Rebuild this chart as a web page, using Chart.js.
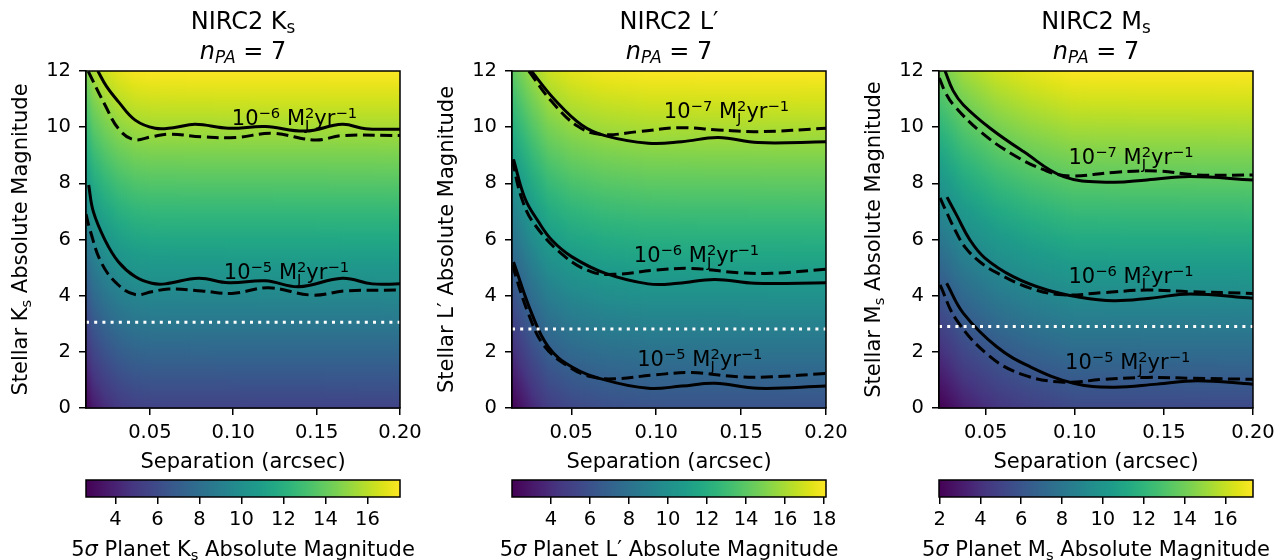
<!DOCTYPE html>
<html><head><meta charset="utf-8">
<script src="https://cdn.jsdelivr.net/npm/chart.js@4.4.1/dist/chart.umd.min.js"></script>
<style>
html,body{margin:0;padding:0;background:#fff;}
#wrap{position:relative;width:1288px;height:560px;overflow:hidden;background:#fff;}
canvas{position:absolute;}
</style></head><body><div id="wrap"></div>
<script>
// ---------------- data ----------------
const SEP_TICKS = [0.05, 0.10, 0.15, 0.20];
const MAG_TICKS = [0, 2, 4, 6, 8, 10, 12];
const SEP_MAX = 0.20;
const MAG_RANGE = [0, 12];

// Ks panel
const KS_XMIN = 0.0117;
const KS_SEP = [0.0117, 0.0161, 0.0231, 0.0311, 0.0411, 0.0512, 0.08, 0.12, 0.16, 0.20];
const KS_CONTRAST = [2.6, 3.65, 4.4, 4.98, 5.38, 5.5, 5.52, 5.53, 5.54, 5.55];
const KS_CBAR_RANGE = [2.6, 17.55];
const KS_CBAR_TICKS = [4, 6, 8, 10, 12, 14, 16];
const KS_STAR_MAG = 3.05;
const KS_E6_SOLID = [[0.0188,12.0],[0.0240,11.45],[0.0311,10.91],[0.0412,10.25],[0.0532,9.96],[0.0640,9.98],[0.0772,10.10],[0.0972,9.96],[0.1193,10.02],[0.1433,9.86],[0.1654,10.10],[0.1794,9.94],[0.2000,9.93]];
const KS_E6_DASHED = [[0.0131,11.98],[0.0231,10.79],[0.0311,9.95],[0.0401,9.56],[0.0512,9.66],[0.0612,9.75],[0.0812,9.66],[0.1012,9.63],[0.1233,9.78],[0.1493,9.54],[0.1654,9.70],[0.2000,9.70]];
const KS_E5_SOLID = [[0.0133,7.94],[0.0161,6.99],[0.0231,5.98],[0.0311,5.21],[0.0411,4.68],[0.0512,4.44],[0.0592,4.42],[0.0792,4.62],[0.0972,4.46],[0.1193,4.53],[0.1393,4.32],[0.1654,4.62],[0.1834,4.42],[0.2000,4.42]];
const KS_E5_DASHED = [[0.0117,6.9],[0.0141,6.34],[0.0211,5.15],[0.0311,4.38],[0.0412,4.04],[0.0512,4.14],[0.0612,4.24],[0.0812,4.17],[0.0992,4.08],[0.1213,4.28],[0.1473,4.02],[0.1674,4.17],[0.2000,4.20]];

// L' panel
const LP_XMIN = 0.0151;
const LP_SEP = [0.0151, 0.0267, 0.0365, 0.0502, 0.0698, 0.0953, 0.13, 0.20];
const LP_CONTRAST = [2.0, 3.7, 4.8, 5.45, 5.85, 6.05, 6.08, 6.1];
const LP_CBAR_RANGE = [2.0, 18.1];
const LP_CBAR_TICKS = [4, 6, 8, 10, 12, 14, 16, 18];
const LP_STAR_MAG = 2.81;
const LP_E7_SOLID = [[0.0265,12.0],[0.0404,10.97],[0.0561,10.08],[0.0698,9.70],[0.0953,9.43],[0.1150,9.48],[0.1365,9.63],[0.1600,9.45],[0.2000,9.48]];
const LP_E7_DASHED = [[0.0250,12.0],[0.0385,10.91],[0.0541,10.02],[0.0679,9.74],[0.0894,9.84],[0.1130,9.98],[0.1365,9.90],[0.1600,9.84],[0.2000,9.96]];
const LP_E6_SOLID = [[0.0160,8.85],[0.0227,7.47],[0.0306,6.64],[0.0385,5.98],[0.0502,5.39],[0.0698,4.80],[0.0953,4.42],[0.1130,4.44],[0.1345,4.58],[0.1580,4.44],[0.2000,4.46]];
const LP_E6_DASHED = [[0.0152,8.85],[0.0208,7.47],[0.0286,6.52],[0.0463,5.39],[0.0620,4.85],[0.0757,4.76],[0.0992,4.91],[0.1208,4.97],[0.1482,4.82],[0.1679,4.80],[0.2000,4.94]];
const LP_E5_SOLID = [[0.0160,5.20],[0.0267,3.37],[0.0365,2.18],[0.0502,1.47],[0.0698,1.00],[0.0953,0.70],[0.1150,0.78],[0.1345,0.88],[0.1600,0.70],[0.2000,0.78]];
const LP_E5_DASHED = [[0.0152,5.10],[0.0247,3.37],[0.0345,2.18],[0.0502,1.41],[0.0620,1.11],[0.0757,1.04],[0.0992,1.18],[0.1208,1.26],[0.1482,1.11],[0.1679,1.11],[0.2000,1.23]];

// Ms panel
const MS_XMIN = 0.0238;
const MS_SEP = [0.0238, 0.0281, 0.0375, 0.0562, 0.0749, 0.0993, 0.14, 0.20];
const MS_CONTRAST = [1.97, 2.3, 3.2, 4.2, 4.8, 5.3, 5.34, 5.36];
const MS_CBAR_RANGE = [1.97, 17.36];
const MS_CBAR_TICKS = [2, 4, 6, 8, 10, 12, 14, 16];
const MS_STAR_MAG = 2.90;
const MS_E7_SOLID = [[0.0272,12.0],[0.0317,11.30],[0.0375,10.79],[0.0525,9.96],[0.0712,9.13],[0.0937,8.24],[0.1199,8.04],[0.1405,8.12],[0.1648,8.24],[0.2000,8.12]];
const MS_E7_DASHED = [[0.0240,11.75],[0.0275,11.22],[0.0320,10.79],[0.0470,9.84],[0.0657,9.01],[0.0843,8.44],[0.0974,8.26],[0.1217,8.39],[0.1461,8.44],[0.1686,8.30],[0.2000,8.30]];
const MS_E6_SOLID = [[0.0283,7.51],[0.0339,6.84],[0.0412,5.98],[0.0496,5.34],[0.0654,4.68],[0.0845,4.20],[0.1013,3.96],[0.1216,3.82],[0.1423,3.91],[0.1648,4.06],[0.2000,3.91]];
const MS_E6_DASHED = [[0.0244,7.48],[0.0283,6.94],[0.0328,6.34],[0.0384,5.73],[0.0468,5.20],[0.0564,4.81],[0.0749,4.27],[0.0935,4.03],[0.1161,4.11],[0.1405,4.20],[0.1648,4.14],[0.2000,4.08]];
const MS_E5_SOLID = [[0.0281,4.44],[0.0375,3.37],[0.0562,2.18],[0.0749,1.47],[0.0993,0.88],[0.1217,0.74],[0.1461,0.85],[0.1686,0.97],[0.2000,0.85]];
const MS_E5_DASHED = [[0.0244,4.38],[0.0337,3.13],[0.0525,1.83],[0.0712,1.18],[0.0937,0.92],[0.1161,1.02],[0.1405,1.09],[0.1648,1.06],[0.2000,1.02]];

// ---------------- helpers ----------------
const FONT = '"DejaVu Sans"';
Chart.defaults.font.family = 'DejaVu Sans';
const VIRIDIS = ['#440154','#471365','#482475','#453781','#414487','#3b528b','#355f8d','#2f6c8e','#2a788e','#25848e','#21918c','#1e9b8a','#22a884','#2fb47c','#44bf70','#5ec962','#7ad151','#9bd93c','#bddf26','#dfe318','#fde725'];
const VRGB = VIRIDIS.map(h => [parseInt(h.slice(1,3),16), parseInt(h.slice(3,5),16), parseInt(h.slice(5,7),16)]);
function viridis(t){
  t = Math.max(0, Math.min(1, t));
  const f = t * 20, i = Math.min(19, Math.floor(f)), u = f - i;
  const a = VRGB[i], b = VRGB[i+1];
  return 'rgb(' + Math.round(a[0]+(b[0]-a[0])*u) + ',' + Math.round(a[1]+(b[1]-a[1])*u) + ',' + Math.round(a[2]+(b[2]-a[2])*u) + ')';
}
function lerpArr(xs, ys, x){
  if (x <= xs[0]) return ys[0];
  for (let i = 1; i < xs.length; i++) if (x <= xs[i]) { const u = (x-xs[i-1])/(xs[i]-xs[i-1]); return ys[i-1] + (ys[i]-ys[i-1])*u; }
  return ys[ys.length-1];
}
function fontStr(sz, it){ return (it ? 'italic ' : '') + sz + 'px ' + FONT; }
function layoutRich(ctx, segs, fs){
  let w = 0; const items = [];
  for (const s of segs){
    if (s.stack){
      const ss = fs*0.7, f = fontStr(ss, false);
      ctx.font = f;
      const w1 = ctx.measureText(s.sub).width, w2 = ctx.measureText(s.sup).width;
      items.push({t:s.sub, x:w, dy:fs*0.24, f});
      items.push({t:s.sup, x:w, dy:-fs*0.33, f});
      w += Math.max(w1, w2);
    } else {
      const sz = (s.sub || s.sup) ? fs*0.7 : fs, f = fontStr(sz, s.it);
      ctx.font = f;
      const tw = ctx.measureText(s.t).width;
      items.push({t:s.t, x:w, dy: s.sub ? fs*0.18 : (s.sup ? -fs*0.33 : 0), f});
      w += tw;
    }
  }
  return {w, items};
}
function drawRich(ctx, segs, x, y, fs, align, rot){
  ctx.save(); ctx.translate(x, y); if (rot) ctx.rotate(rot);
  const L = layoutRich(ctx, segs, fs);
  const x0 = align === 'center' ? -L.w/2 : (align === 'right' ? -L.w : 0);
  ctx.fillStyle = '#000'; ctx.textBaseline = 'alphabetic'; ctx.textAlign = 'left';
  for (const it of L.items){ ctx.font = it.f; ctx.fillText(it.t, x0 + it.x, it.dy); }
  ctx.restore();
}
function rateLabel(exp){
  return [{t:'10'},{t:exp, sup:true},{t:' M'},{stack:true, sub:'J', sup:'2'},{t:'yr'},{t:'−1', sup:true}];
}

// ---------------- panels ----------------
const BAND_K = [{t:'K'},{t:'s', sub:true}];
const BAND_L = [{t:'L′'}];
const BAND_M = [{t:'M'},{t:'s', sub:true}];
const PANELS = [
  {key:'ks', left:0, width:430, areaLeft:86, areaRight:400, yLabelX:27, xmin:KS_XMIN, band:BAND_K,
   sep:KS_SEP, con:KS_CONTRAST, cb:KS_CBAR_RANGE, cbTicks:KS_CBAR_TICKS, star:KS_STAR_MAG,
   lines:[[KS_E6_SOLID,false],[KS_E6_DASHED,true],[KS_E5_SOLID,false],[KS_E5_DASHED,true]],
   labels:[['−6',[0.1367,10.08]],['−5',[0.1319,4.58]]]},
  {key:'lp', left:430, width:430, areaLeft:82, areaRight:396, yLabelX:23, xmin:LP_XMIN, band:BAND_L,
   sep:LP_SEP, con:LP_CONTRAST, cb:LP_CBAR_RANGE, cbTicks:LP_CBAR_TICKS, star:LP_STAR_MAG,
   lines:[[LP_E7_SOLID,false],[LP_E7_DASHED,true],[LP_E6_SOLID,false],[LP_E6_DASHED,true],[LP_E5_SOLID,false],[LP_E5_DASHED,true]],
   labels:[['−7',[0.1414,10.32]],['−6',[0.1237,5.19]],['−5',[0.1257,1.51]]]},
  {key:'ms', left:860, width:428, areaLeft:79, areaRight:393, yLabelX:20, xmin:MS_XMIN, band:BAND_M,
   sep:MS_SEP, con:MS_CONTRAST, cb:MS_CBAR_RANGE, cbTicks:MS_CBAR_TICKS, star:MS_STAR_MAG,
   lines:[[MS_E7_SOLID,false],[MS_E7_DASHED,true],[MS_E6_SOLID,false],[MS_E6_DASHED,true],[MS_E5_SOLID,false],[MS_E5_DASHED,true]],
   labels:[['−7',[0.1316,8.68]],['−6',[0.1316,4.46]],['−5',[0.1297,1.38]]]}
];

const MAIN_H = 480, CB_TOP = 470, CB_H = 90;
const TICK_FONT = {family:'DejaVu Sans', size:19.5};

function makeCanvas(left, top, w, h){
  const c = document.createElement('canvas');
  c.width = w; c.height = h; c.style.left = left + 'px'; c.style.top = top + 'px';
  c.style.width = w + 'px'; c.style.height = h + 'px';
  document.getElementById('wrap').appendChild(c);
  return c;
}

PANELS.forEach(P => {
  const heat = {
    id: 'heat_' + P.key,
    beforeDatasetsDraw(chart){
      const {ctx, chartArea:a, scales:{x, y}} = chart;
      const y0 = y.getPixelForValue(MAG_RANGE[0]), y1 = y.getPixelForValue(MAG_RANGE[1]);
      ctx.save(); ctx.beginPath(); ctx.rect(a.left, a.top, a.right-a.left, a.bottom-a.top); ctx.clip();
      for (let px = Math.floor(a.left); px < a.right; px++){
        const s = x.getValueForPixel(px + 0.5);
        const c = lerpArr(P.sep, P.con, s);
        const g = ctx.createLinearGradient(0, y0, 0, y1);
        for (let k = 0; k <= 24; k++){
          const m = MAG_RANGE[0] + (MAG_RANGE[1]-MAG_RANGE[0])*k/24;
          g.addColorStop(k/24, viridis((m + c - P.cb[0])/(P.cb[1]-P.cb[0])));
        }
        ctx.fillStyle = g; ctx.fillRect(px, a.top, 1.6, a.bottom-a.top);
      }
      ctx.restore();
    }
  };
  const deco = {
    id: 'deco_' + P.key,
    afterDraw(chart){
      const {ctx, chartArea:a, scales:{x, y}} = chart;
      ctx.save();
      ctx.strokeStyle = '#000'; ctx.lineWidth = 1.5;
      ctx.strokeRect(a.left, a.top, a.right-a.left, a.bottom-a.top);
      ctx.restore();
      P.labels.forEach(([exp, pos]) => {
        drawRich(ctx, rateLabel(exp), x.getPixelForValue(pos[0]), y.getPixelForValue(pos[1]), 21, 'center');
      });
      const cx = (a.left + a.right)/2;
      drawRich(ctx, [{t:'NIRC2 '}].concat(P.band), cx, 29, 24, 'center');
      drawRich(ctx, [{t:'n', it:true},{t:'PA', sub:true, it:true},{t:' = 7'}], cx, 59, 24, 'center');
      drawRich(ctx, [{t:'Separation (arcsec)'}], cx, 468, 21, 'center');
      drawRich(ctx, [{t:'Stellar '}].concat(P.band, [{t:' Absolute Magnitude'}]), P.yLabelX, (a.top+a.bottom)/2, 21, 'center', -Math.PI/2);
    }
  };
  const datasets = [{
    data: [[P.xmin, P.star],[SEP_MAX, P.star]].map(([x,y]) => ({x, y})),
    borderColor:'#ffffff', borderWidth:3, borderDash:[3,5.2], borderCapStyle:'butt', pointRadius:0, fill:false
  }];
  P.lines.forEach(([arr, dashed]) => {
    datasets.push({
      data: arr.map(([x,y]) => ({x, y})),
      borderColor:'#000', borderWidth:3, borderDash: dashed ? [12,5.5] : [], borderCapStyle:'butt',
      pointRadius:0, fill:false, tension:0.4
    });
  });
  const axisCommon = {
    grid:{drawOnChartArea:false, drawTicks:true, tickLength:7, color:'#000', lineWidth:1.5},
    border:{display:true, color:'#000', width:1.5}
  };
  new Chart(makeCanvas(P.left, 0, P.width, MAIN_H), {
    type:'line',
    data:{datasets},
    options:{
      responsive:false, animation:false, devicePixelRatio:1, events:[],
      layout:{padding:{left:0, right:P.width - P.areaRight, top:71, bottom:0}},
      plugins:{legend:{display:false}, tooltip:{enabled:false}, title:{display:false}},
      scales:{
        x:Object.assign({type:'linear', min:P.xmin, max:SEP_MAX,
          afterFit(s){ s.height = MAIN_H - 408; },
          afterBuildTicks(s){ s.ticks = SEP_TICKS.map(v => ({value:v})); },
          ticks:{callback:v => Number(v).toFixed(2), font:TICK_FONT, color:'#000', padding:6, maxRotation:0, autoSkip:false}
        }, axisCommon),
        y:Object.assign({type:'linear', min:MAG_RANGE[0], max:MAG_RANGE[1],
          afterFit(s){ s.width = P.areaLeft; },
          afterBuildTicks(s){ s.ticks = MAG_TICKS.map(v => ({value:v})); },
          ticks:{callback:v => String(v), font:TICK_FONT, color:'#000', padding:8, autoSkip:false}
        }, axisCommon)
      }
    },
    plugins:[heat, deco]
  });

  // colorbar
  const cbPlug = {
    id:'cb_' + P.key,
    beforeDatasetsDraw(chart){
      const {ctx, chartArea:a, scales:{x}} = chart;
      const g = ctx.createLinearGradient(x.getPixelForValue(P.cb[0]), 0, x.getPixelForValue(P.cb[1]), 0);
      for (let k = 0; k <= 40; k++) g.addColorStop(k/40, viridis(k/40));
      ctx.fillStyle = g; ctx.fillRect(a.left, a.top, a.right-a.left, a.bottom-a.top);
    },
    afterDraw(chart){
      const {ctx, chartArea:a} = chart;
      ctx.save(); ctx.strokeStyle = '#000'; ctx.lineWidth = 1.5;
      ctx.strokeRect(a.left, a.top, a.right-a.left, a.bottom-a.top); ctx.restore();
      drawRich(ctx, [{t:'5'},{t:'σ', it:true},{t:' Planet '}].concat(P.band, [{t:' Absolute Magnitude'}]), (a.left+a.right)/2, 86, 21, 'center');
    }
  };
  new Chart(makeCanvas(P.left, CB_TOP, P.width, CB_H), {
    type:'line',
    data:{datasets:[{data:[]}]},
    options:{
      responsive:false, animation:false, devicePixelRatio:1, events:[],
      layout:{padding:{left:P.areaLeft, right:P.width - P.areaRight, top:10, bottom:0}},
      plugins:{legend:{display:false}, tooltip:{enabled:false}},
      scales:{
        x:{type:'linear', min:P.cb[0], max:P.cb[1],
          afterFit(s){ s.height = CB_H - 27; },
          afterBuildTicks(s){ s.ticks = P.cbTicks.map(v => ({value:v})); },
          ticks:{callback:v => String(v), font:TICK_FONT, color:'#000', padding:4, maxRotation:0, autoSkip:false},
          grid:{drawOnChartArea:false, drawTicks:true, tickLength:7, color:'#000', lineWidth:1.5},
          border:{display:false}
        },
        y:{display:false, min:0, max:1}
      }
    },
    plugins:[cbPlug]
  });
});
</script></body></html>
